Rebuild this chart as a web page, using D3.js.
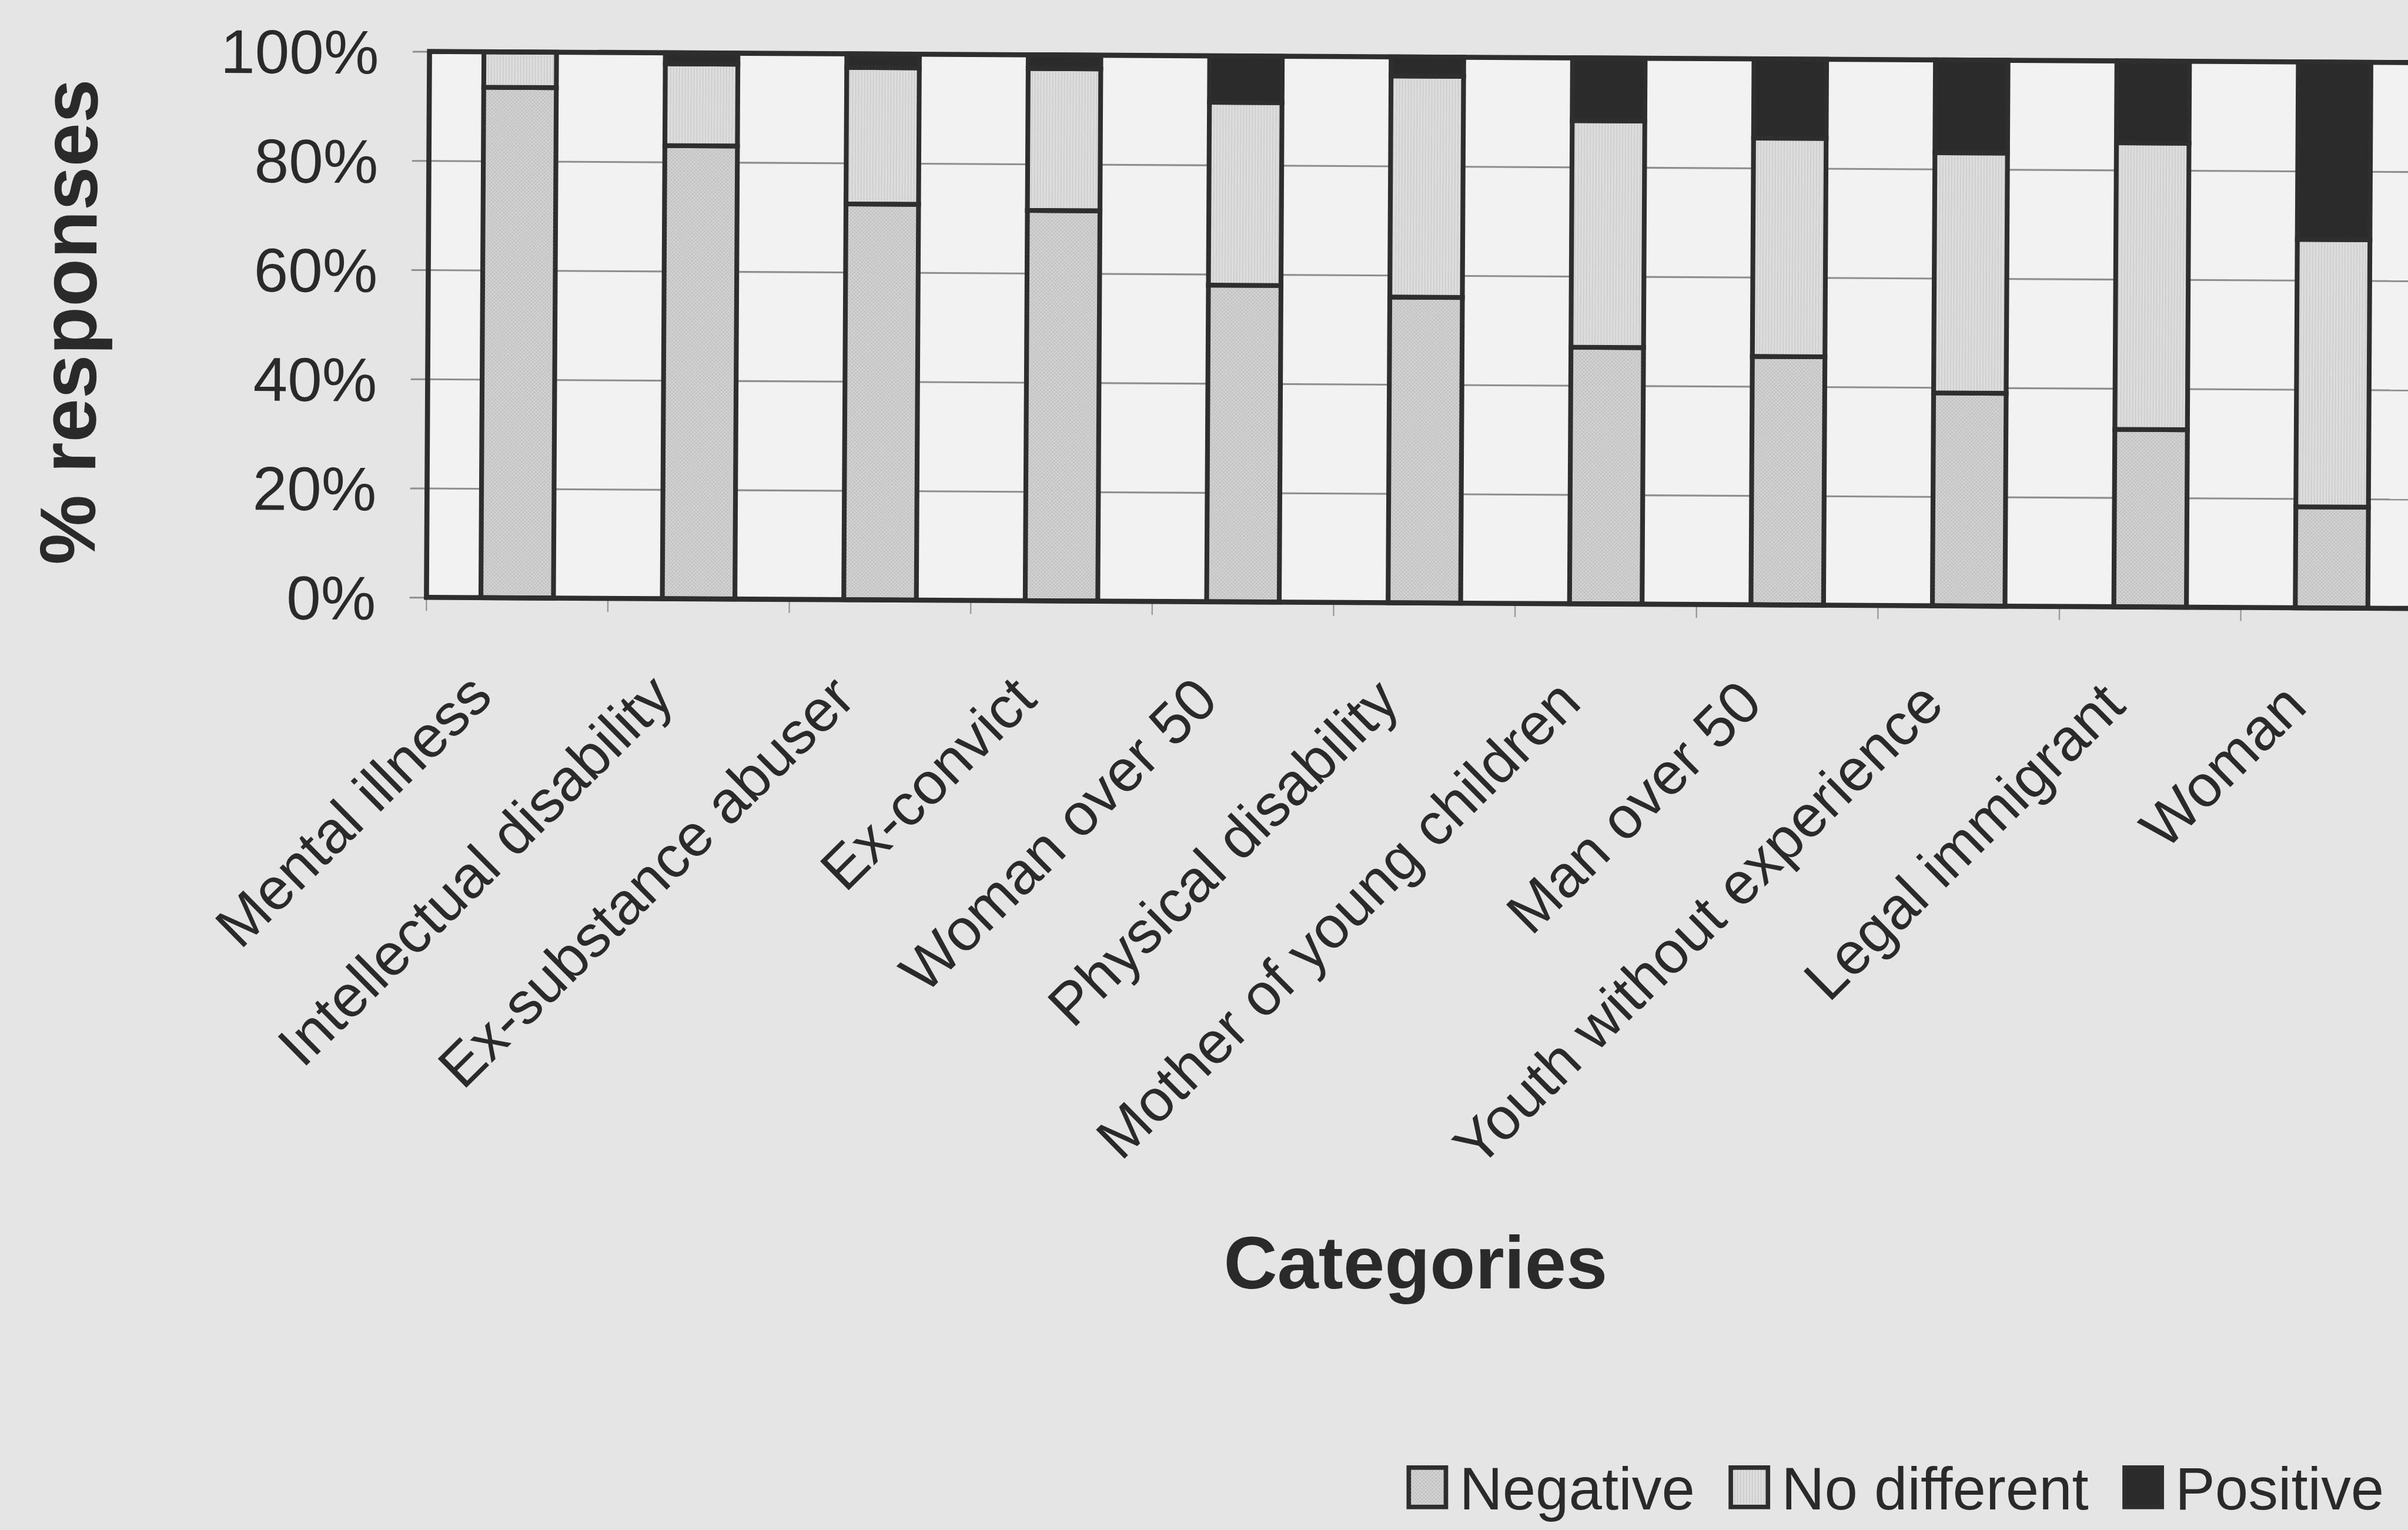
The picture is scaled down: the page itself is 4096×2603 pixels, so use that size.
<!DOCTYPE html>
<html>
<head>
<meta charset="utf-8">
<script src="https://cdn.jsdelivr.net/npm/d3@7"></script>
<style>
  html, body { margin: 0; padding: 0; background: #e5e5e5; overflow: hidden; }
  svg { display: block; }
  text { font-family: "Liberation Sans", Arial, Helvetica, sans-serif; fill: #2a2a2a; }
</style>
</head>
<body>
<svg id="chart"></svg>
<script>
// Attitudes towards job candidates from each category (% of responses)
const categories = [
  "Mental illness", "Intellectual disability", "Ex-substance abuser", "Ex-convict",
  "Woman over 50", "Physical disability", "Mother of young children", "Man over 50",
  "Youth without experience", "Legal immigrant", "Woman"
];
const negative    = [93.5, 83, 72.5, 71.5, 58, 56, 47, 45.5, 39, 32.5, 18.5];
const noDifferent = [6.5, 15, 25, 26, 33.5, 40.5, 41.5, 40, 44, 52.5, 49];
const positive    = [0, 2, 2.5, 2.5, 8.5, 3.5, 11.5, 14.5, 17, 15, 32.5];
const seriesNames = ["Negative", "No different", "Positive"];
const yTickValues = [0, 20, 40, 60, 80, 100];
const yTickLabels = ["0%", "20%", "40%", "60%", "80%", "100%"];

const W = 4096, H = 2603, S = 0.957;
const ink = "#2e2e2e";

const svg = d3.select("#chart").attr("width", W).attr("height", H);

// Fill textures for the two light series
const defs = svg.append("defs");
const negPat = defs.append("pattern").attr("id", "negFill")
  .attr("patternUnits", "userSpaceOnUse").attr("width", 6).attr("height", 6);
negPat.append("rect").attr("width", 6).attr("height", 6).attr("fill", "#d0d0d0");
negPat.append("rect").attr("x", 0).attr("y", 0).attr("width", 2).attr("height", 2).attr("fill", "#bababa");
negPat.append("rect").attr("x", 3).attr("y", 3).attr("width", 2).attr("height", 2).attr("fill", "#bababa");
const ndPat = defs.append("pattern").attr("id", "ndFill")
  .attr("patternUnits", "userSpaceOnUse").attr("width", 5).attr("height", 5);
ndPat.append("rect").attr("width", 5).attr("height", 5).attr("fill", "#dddddd");
ndPat.append("rect").attr("x", 0).attr("y", 0).attr("width", 1.4).attr("height", 5).attr("fill", "#c9c9c9");

const fills = { "Negative": "url(#negFill)", "No different": "url(#ndFill)", "Positive": "#2b2b2b" };

svg.append("rect").attr("width", W).attr("height", H).attr("fill", "#e5e5e5");

// Geometry
const plotLeft = 758 * S, plotTop = 91.5 * S, plotBottom = 1062 * S;
const step = 322.5 * S;
const plotRight = plotLeft + step * categories.length;
const plotW = plotRight - plotLeft;

const x = d3.scaleBand().domain(categories)
  .range([plotLeft, plotRight]).paddingInner(0.6).paddingOuter(0.3);
const y = d3.scaleLinear().domain([0, 100]).range([plotBottom, plotTop]);

// The plot and its axes sit at a very slight tilt
const g = svg.append("g")
  .attr("transform", `rotate(0.32, ${plotLeft}, ${plotBottom})`);

// Plot area
g.append("rect")
  .attr("x", plotLeft).attr("y", plotTop)
  .attr("width", plotW).attr("height", plotBottom - plotTop)
  .attr("fill", "#f2f2f2");

// Gridlines
const grid = g.append("g").attr("transform", `translate(${plotLeft},0)`)
  .call(d3.axisLeft(y).tickValues(yTickValues).tickSize(-plotW).tickFormat(""));
grid.select(".domain").remove();
grid.selectAll("line").attr("stroke", "#8e8e8e").attr("stroke-width", 3.2 * S);

// Y axis: outside tick marks and labels
const yAxis = g.append("g").attr("transform", `translate(${plotLeft},0)`)
  .call(d3.axisLeft(y).tickValues(yTickValues)
    .tickSize(30 * S).tickPadding(60 * S)
    .tickFormat((d, i) => yTickLabels[i]));
yAxis.select(".domain").remove();
yAxis.selectAll("line").attr("stroke", "#8e8e8e").attr("stroke-width", 3.2 * S);
yAxis.selectAll("text")
  .attr("font-size", 110 * S).attr("fill", ink)
  .attr("font-family", "'Liberation Sans', Arial, sans-serif")
  .attr("dy", "0.36em");

// Stacked bars
const rows = categories.map((c, i) => ({
  category: c, "Negative": negative[i], "No different": noDifferent[i], "Positive": positive[i]
}));
const stacked = d3.stack().keys(seriesNames)(rows);

g.append("g").selectAll("g.series")
  .data(stacked).join("g").attr("class", "series")
  .attr("fill", d => fills[d.key])
  .selectAll("rect")
  .data(d => d.filter(p => p[1] - p[0] > 0))
  .join("rect")
  .attr("x", d => x(d.data.category))
  .attr("width", x.bandwidth())
  .attr("y", d => y(d[1]))
  .attr("height", d => y(d[0]) - y(d[1]))
  .attr("stroke", ink)
  .attr("stroke-width", 8.5 * S);

// X axis tick marks at category boundaries
g.append("g").selectAll("line")
  .data(categories).join("line")
  .attr("x1", d => x(d) - x.step() * x.paddingOuter())
  .attr("x2", d => x(d) - x.step() * x.paddingOuter())
  .attr("y1", plotBottom).attr("y2", plotBottom + 24 * S)
  .attr("stroke", "#9a9a9a").attr("stroke-width", 2.5 * S);

// Plot frame
g.append("rect")
  .attr("x", plotLeft).attr("y", plotTop)
  .attr("width", plotW).attr("height", plotBottom - plotTop)
  .attr("fill", "none").attr("stroke", ink).attr("stroke-width", 9 * S);

// Category labels, rotated
g.append("g").selectAll("text")
  .data(categories).join("text")
  .attr("text-anchor", "end")
  .attr("font-size", 105 * S)
  .attr("transform", d =>
    `translate(${x(d) + x.bandwidth() / 2 - 39 * S}, ${plotBottom + 180 * S}) rotate(-45)`)
  .text(d => d);

// Axis titles
g.append("text")
  .attr("text-anchor", "middle")
  .attr("font-weight", "bold")
  .attr("font-size", 140 * S)
  .attr("transform", `translate(${168 * S}, ${576 * S}) rotate(-90)`)
  .text("% responses");

svg.append("text")
  .attr("x", 2516 * S).attr("y", 2290 * S)
  .attr("text-anchor", "middle")
  .attr("font-weight", "bold")
  .attr("font-size", 132 * S)
  .text("Categories");

// Legend
const legend = svg.append("g");
let lx = 2504 * S;
const boxW = 66 * S, boxH = 70 * S, boxY = 2609 * S, textY = 2683 * S;
seriesNames.forEach(name => {
  legend.append("rect")
    .attr("x", lx).attr("y", boxY).attr("width", boxW).attr("height", boxH)
    .attr("fill", fills[name]).attr("stroke", ink).attr("stroke-width", 8 * S);
  const t = legend.append("text")
    .attr("x", lx + 90 * S).attr("y", textY)
    .attr("font-size", 106 * S)
    .text(name);
  lx = lx + 90 * S + t.node().getComputedTextLength() + 64 * S;
});
</script>
</body>
</html>
